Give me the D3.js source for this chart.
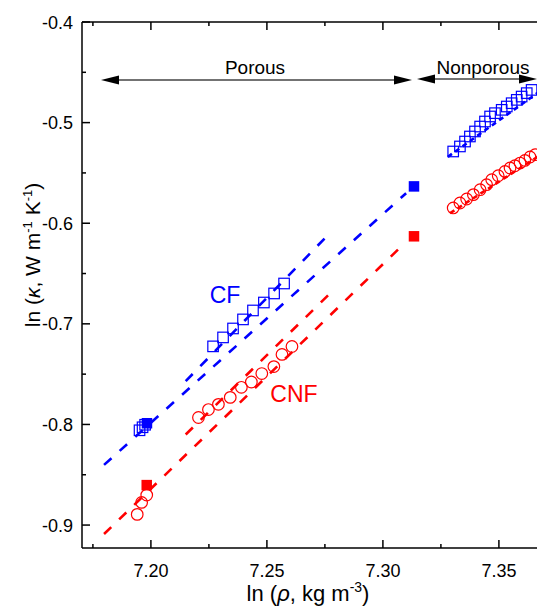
<!DOCTYPE html>
<html><head><meta charset="utf-8">
<script src="https://cdn.jsdelivr.net/npm/d3@7"></script>
<style>body{margin:0;background:#fff}svg{display:block}text{font-family:"Liberation Sans",Arial,sans-serif}</style>
</head><body><div id="chart"></div>
<script>
// ---- data ----
const xTicks = [7.20, 7.25, 7.30, 7.35];
const yTicks = [-0.9, -0.8, -0.7, -0.6, -0.5, -0.4];
// CF (blue) open squares
const cfOpenX = [7.1951, 7.1964, 7.1975, 7.2268, 7.2311, 7.2354, 7.2397, 7.2440, 7.2487, 7.2531, 7.2574,
  7.3303, 7.3332, 7.3354, 7.3375, 7.3397, 7.3419, 7.3440, 7.3462, 7.3483, 7.3512, 7.3534, 7.3555, 7.3577, 7.3598, 7.3620, 7.3641];
const cfOpenY = [-0.8058, -0.8028, -0.8003, -0.7224, -0.7135, -0.7046, -0.6956, -0.6867, -0.6788, -0.6698, -0.6599,
  -0.5287, -0.5237, -0.5188, -0.5138, -0.5088, -0.5039, -0.4989, -0.4939, -0.4906, -0.4873, -0.4840, -0.4807, -0.4774, -0.4741, -0.4707, -0.4675];
const cfFilledX = [7.1983, 7.3134];
const cfFilledY = [-0.7988, -0.5634];
// CNF (red) open circles
const cnfOpenX = [7.1941, 7.1960, 7.1982, 7.2205, 7.2248, 7.2291, 7.2342, 7.2390, 7.2433, 7.2478, 7.2530, 7.2565, 7.2608,
  7.3303, 7.3332, 7.3361, 7.3390, 7.3419, 7.3447, 7.3469, 7.3497, 7.3526, 7.3548, 7.3569, 7.3591, 7.3612, 7.3634, 7.3656];
const cnfOpenY = [-0.8894, -0.8775, -0.8702, -0.7931, -0.7852, -0.7800, -0.7731, -0.7631, -0.7578, -0.7494, -0.7425, -0.7304, -0.7225,
  -0.5848, -0.5799, -0.5759, -0.5716, -0.5667, -0.5617, -0.5567, -0.5528, -0.5485, -0.5451, -0.5429, -0.5402, -0.5376, -0.5342, -0.5319];
const cnfFilledX = [7.1982, 7.3134];
const cnfFilledY = [-0.8603, -0.6130];
// dashed fit lines: [x0, x1], [y0, y1]
const cfFitX = [[7.1798, 7.3100], [7.2150, 7.2775], [7.3280, 7.3700]];
const cfFitY = [[-0.8402, -0.5702], [-0.7570, -0.6090], [-0.5340, -0.4650]];
const cnfFitX = [[7.1798, 7.3074], [7.2150, 7.2780], [7.3290, 7.3700]];
const cnfFitY = [[-0.9089, -0.6242], [-0.8100, -0.6680], [-0.5900, -0.5290]];

const W = 537, H = 608;
const svg = d3.select("#chart").append("svg").attr("width", W).attr("height", H);
const x = d3.scaleLinear().domain([7.1703, 7.3703]).range([82, 546]);
const y = d3.scaleLinear().domain([-0.9228, -0.4]).range([548, 22]);
const BLUE = "#0000ff", RED = "#ff0000";

const plot = svg.append("g");
function fitLines(X, Y, color) {
  X.forEach((xs, i) => {
    plot.append("line")
      .attr("x1", x(xs[0])).attr("y1", y(Y[i][0]))
      .attr("x2", x(xs[1])).attr("y2", y(Y[i][1]))
      .attr("stroke", color).attr("stroke-width", 2.6)
      .attr("stroke-dasharray", i === 2 ? "5,4" : "10,11");
  });
}
fitLines(cfFitX, cfFitY, BLUE);
fitLines(cnfFitX, cnfFitY, RED);

const S = 10.5;
plot.selectAll(".cfo").data(cfOpenX).join("rect")
  .attr("x", (d) => x(d) - S / 2).attr("y", (d, i) => y(cfOpenY[i]) - S / 2)
  .attr("width", S).attr("height", S).attr("fill", "none").attr("stroke", BLUE).attr("stroke-width", 1.2);
plot.selectAll(".cfo2").data(cfFilledX).join("rect")
  .attr("x", (d) => x(d) - S / 2).attr("y", (d, i) => y(cfFilledY[i]) - S / 2)
  .attr("width", S).attr("height", S).attr("fill", BLUE);
plot.selectAll(".cno").data(cnfOpenX).join("circle")
  .attr("cx", (d) => x(d)).attr("cy", (d, i) => y(cnfOpenY[i])).attr("r", 5.8)
  .attr("fill", "none").attr("stroke", RED).attr("stroke-width", 1.2);
plot.selectAll(".cnf2").data(cnfFilledX).join("rect")
  .attr("x", (d) => x(d) - S / 2).attr("y", (d, i) => y(cnfFilledY[i]) - S / 2)
  .attr("width", S).attr("height", S).attr("fill", RED);

// axes
const ax = svg.append("g").attr("stroke", "#000").attr("stroke-width", 1.5).attr("fill", "none");
ax.append("line").attr("x1", 82).attr("x2", 82).attr("y1", 22).attr("y2", 548);
ax.append("line").attr("x1", 82).attr("x2", 546).attr("y1", 548).attr("y2", 548);
ax.append("line").attr("x1", 82).attr("x2", 546).attr("y1", 22).attr("y2", 22);
const xMinor = d3.range(0, 8).map(i => 7.175 + i * 0.05);
const yMinor = d3.range(0, 5).map(i => -0.85 + i * 0.1);
xTicks.forEach(t => {
  ax.append("line").attr("x1", x(t)).attr("x2", x(t)).attr("y1", 548).attr("y2", 540);
  ax.append("line").attr("x1", x(t)).attr("x2", x(t)).attr("y1", 22).attr("y2", 30);
});
xMinor.forEach(t => {
  ax.append("line").attr("x1", x(t)).attr("x2", x(t)).attr("y1", 548).attr("y2", 544);
  ax.append("line").attr("x1", x(t)).attr("x2", x(t)).attr("y1", 22).attr("y2", 26);
});
yTicks.forEach(t => ax.append("line").attr("x1", 82).attr("x2", 90).attr("y1", y(t)).attr("y2", y(t)));
yMinor.forEach(t => ax.append("line").attr("x1", 82).attr("x2", 86).attr("y1", y(t)).attr("y2", y(t)));

svg.selectAll(".xt").data(xTicks).join("text")
  .attr("x", d => x(d)).attr("y", 577).attr("text-anchor", "middle").attr("font-size", 18)
  .text(d => d.toFixed(2));
svg.selectAll(".yt").data(yTicks).join("text")
  .attr("x", 73).attr("y", d => y(d) + 6.5).attr("text-anchor", "end").attr("font-size", 18)
  .text(d => d.toFixed(1));

// axis titles
const xt = svg.append("text").attr("x", 308).attr("y", 601).attr("text-anchor", "middle").attr("font-size", 22);
xt.append("tspan").text("ln (");
xt.append("tspan").attr("font-style", "italic").text("ρ");
xt.append("tspan").text(", kg m");
xt.append("tspan").attr("font-size", 14).attr("dy", -9).text("-3");
xt.append("tspan").attr("dy", 9).text(")");

const yt = svg.append("text").attr("transform", "translate(40,255) rotate(-90)").attr("text-anchor", "middle").attr("font-size", 21);
yt.append("tspan").text("ln (");
yt.append("tspan").attr("font-style", "italic").text("κ");
yt.append("tspan").text(", W m");
yt.append("tspan").attr("font-size", 13).attr("dy", -8).text("-1");
yt.append("tspan").attr("dy", 8).text(" K");
yt.append("tspan").attr("font-size", 13).attr("dy", -8).text("-1");
yt.append("tspan").attr("dy", 8).text(")");

// series labels
svg.append("text").attr("x", 225).attr("y", 303).attr("text-anchor", "middle").attr("font-size", 23).attr("fill", BLUE).text("CF");
svg.append("text").attr("x", 294).attr("y", 402).attr("text-anchor", "middle").attr("font-size", 23).attr("fill", RED).text("CNF");

// region arrows
function arrow(x1, x2, yy) {
  const g = svg.append("g");
  g.append("line").attr("x1", x1 + 14).attr("x2", x2 - 14).attr("y1", yy).attr("y2", yy).attr("stroke", "#444").attr("stroke-width", 1.4);
  g.append("path").attr("d", `M${x1},${yy}L${x1 + 18},${yy - 4.5}L${x1 + 18},${yy + 4.5}Z`).attr("fill", "#000");
  g.append("path").attr("d", `M${x2},${yy}L${x2 - 18},${yy - 4.5}L${x2 - 18},${yy + 4.5}Z`).attr("fill", "#000");
}
arrow(101, 412, 80);
arrow(417, 537, 79);
svg.append("text").attr("x", 255).attr("y", 74).attr("text-anchor", "middle").attr("font-size", 19).text("Porous");
svg.append("text").attr("x", 483).attr("y", 74).attr("text-anchor", "middle").attr("font-size", 19).text("Nonporous");
</script></body></html>
